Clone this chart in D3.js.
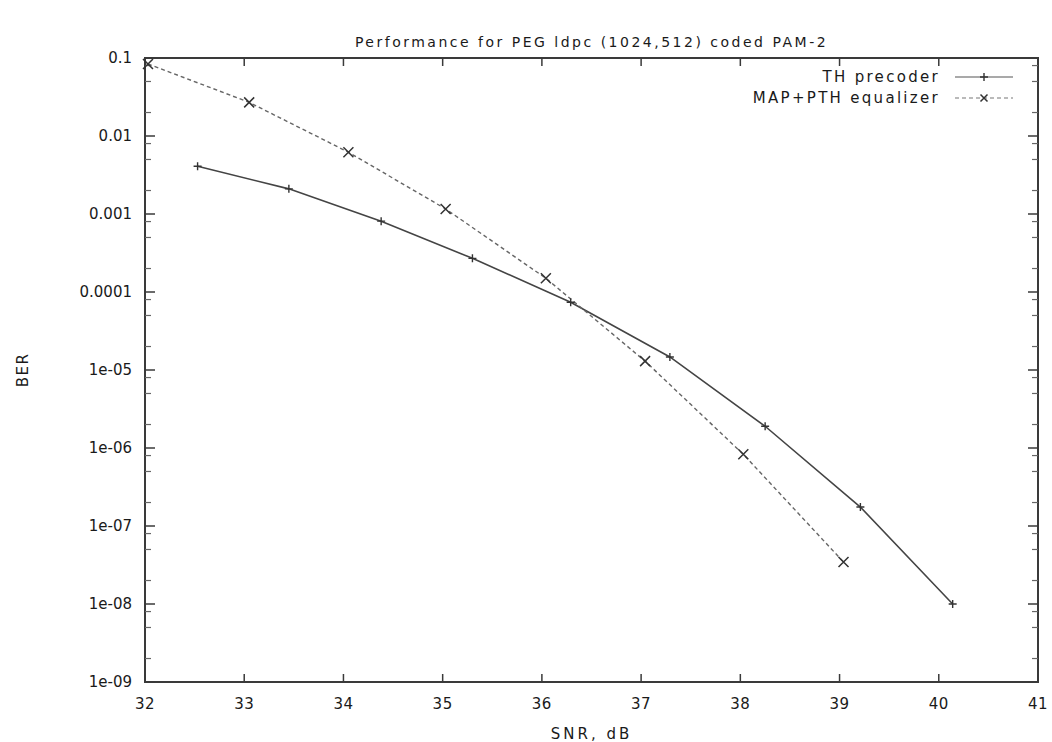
<!DOCTYPE html>
<html>
<head>
<meta charset="utf-8">
<script src="https://cdn.jsdelivr.net/npm/d3@7"></script>
<style>
  body { margin: 0; background: #fff; }
  svg text { font-family: "DejaVu Sans", "Liberation Sans", sans-serif; fill: #1a1a1a; }
</style>
</head>
<body>
<svg id="chart" width="1052" height="742"></svg>
<script>
// data
let thSnr = [32.53, 33.45, 34.38, 35.30, 36.29, 37.29, 38.25, 39.21, 40.14]
let thBer = [4.1e-3, 2.1e-3, 8.1e-4, 2.7e-4, 7.4e-5, 1.47e-5, 1.9e-6, 1.75e-7, 1.0e-8]
let mapSnr = [32.03, 33.05, 34.05, 35.03, 36.04, 37.04, 38.03, 39.04]
let mapBer = [8.4e-2, 2.7e-2, 6.2e-3, 1.16e-3, 1.5e-4, 1.3e-5, 8.3e-7, 3.45e-8]
let xTicks = [32, 33, 34, 35, 36, 37, 38, 39, 40, 41]
let yTicks = [1e-1, 1e-2, 1e-3, 1e-4, 1e-5, 1e-6, 1e-7, 1e-8, 1e-9]
let yLabels = ['0.1', '0.01', '0.001', '0.0001', '1e-05', '1e-06', '1e-07', '1e-08', '1e-09']
let minorMult = [2, 5, 8]
let seriesNames = ['TH precoder', 'MAP+PTH equalizer']

let margin = { left: 145, right: 14, top: 58, bottom: 60 }
let W = 1052, H = 742

let svg = d3.select('#chart')

let xscale = d3.scaleLinear().domain([32, 41]).range([margin.left, W - margin.right])
let yscale = d3.scaleLog().domain([1e-9, 0.1]).range([H - margin.bottom, margin.top])

let ink = '#3a3a3a'

// frame
svg.append('rect')
    .attr('x', xscale(32)).attr('y', yscale(0.1))
    .attr('width', xscale(41) - xscale(32))
    .attr('height', yscale(1e-9) - yscale(0.1))
    .style('fill', 'none').style('stroke', ink).style('stroke-width', 2)

// x ticks, bottom and mirrored on top
let xg = svg.append('g').attr('class', 'xaxis')
xTicks.forEach((t) => {
    xg.append('line')
        .attr('x1', xscale(t)).attr('x2', xscale(t))
        .attr('y1', yscale(1e-9)).attr('y2', yscale(1e-9) - 8)
        .style('stroke', ink).style('stroke-width', 1.5)
    xg.append('line')
        .attr('x1', xscale(t)).attr('x2', xscale(t))
        .attr('y1', yscale(0.1)).attr('y2', yscale(0.1) + 8)
        .style('stroke', ink).style('stroke-width', 1.5)
    xg.append('text')
        .attr('x', xscale(t)).attr('y', yscale(1e-9) + 27)
        .attr('text-anchor', 'middle')
        .style('font-size', '15px')
        .style('letter-spacing', '0.5px')
        .text(t)
})

// y ticks, left and mirrored on right
let yg = svg.append('g').attr('class', 'yaxis')
let xl = xscale(32), xr = xscale(41)
yTicks.forEach((t, i) => {
    yg.append('line')
        .attr('x1', xl).attr('x2', xl + 10)
        .attr('y1', yscale(t)).attr('y2', yscale(t))
        .style('stroke', ink).style('stroke-width', 1.5)
    yg.append('line')
        .attr('x1', xr).attr('x2', xr - 10)
        .attr('y1', yscale(t)).attr('y2', yscale(t))
        .style('stroke', ink).style('stroke-width', 1.5)
    yg.append('text')
        .attr('x', xl - 13).attr('y', yscale(t) + 5)
        .attr('text-anchor', 'end')
        .style('font-size', '15px')
        .text(yLabels[i])

    if (t < 0.1) {
        minorMult.forEach((m) => {
            let v = t * m
            yg.append('line')
                .attr('x1', xl).attr('x2', xl + 6)
                .attr('y1', yscale(v)).attr('y2', yscale(v))
                .style('stroke', '#666').style('stroke-width', 1.2)
            yg.append('line')
                .attr('x1', xr).attr('x2', xr - 6)
                .attr('y1', yscale(v)).attr('y2', yscale(v))
                .style('stroke', '#666').style('stroke-width', 1.2)
        })
    }
})

// series
let line = d3.line()
    .x((d) => xscale(d.x))
    .y((d) => yscale(d.y))

let th = thSnr.map((d, i) => ({ x: d, y: thBer[i] }))
let mp = mapSnr.map((d, i) => ({ x: d, y: mapBer[i] }))

svg.append('path')
    .attr('d', line(th))
    .style('fill', 'none').style('stroke', '#444').style('stroke-width', 1.6)

svg.append('path')
    .attr('d', line(mp))
    .style('fill', 'none').style('stroke', '#666').style('stroke-width', 1.4)
    .style('stroke-dasharray', '4,3')

function plus(g, cx, cy, s) {
    g.append('path')
        .attr('d', `M${cx - s},${cy}H${cx + s}M${cx},${cy - s}V${cy + s}`)
        .style('stroke', '#333').style('stroke-width', 1.4).style('fill', 'none')
}
function cross(g, cx, cy, s) {
    g.append('path')
        .attr('d', `M${cx - s},${cy - s}L${cx + s},${cy + s}M${cx - s},${cy + s}L${cx + s},${cy - s}`)
        .style('stroke', '#333').style('stroke-width', 1.5).style('fill', 'none')
}

let marks = svg.append('g')
th.forEach((d) => plus(marks, xscale(d.x), yscale(d.y), 4))
mp.forEach((d) => cross(marks, xscale(d.x), yscale(d.y), 5))

// legend
let lg = svg.append('g').attr('class', 'legend')
let ly = [77, 98]
seriesNames.forEach((n, i) => {
    lg.append('text')
        .attr('x', 940).attr('y', ly[i] + 5)
        .attr('text-anchor', 'end')
        .style('font-size', '15px')
        .style('letter-spacing', '2.3px')
        .text(n)
    lg.append('line')
        .attr('x1', 955).attr('x2', 1013)
        .attr('y1', ly[i]).attr('y2', ly[i])
        .style('stroke', i == 0 ? '#555' : '#777')
        .style('stroke-width', 1.2)
        .style('stroke-dasharray', i == 0 ? null : '4,3')
    if (i == 0) plus(lg, 984, ly[i], 4)
    else cross(lg, 984, ly[i], 3.5)
})

// titles
svg.append('text')
    .attr('x', (xscale(32) + xscale(41)) / 2).attr('y', 47)
    .attr('text-anchor', 'middle')
    .style('font-size', '14px')
    .style('letter-spacing', '2.5px')
    .text('Performance for PEG ldpc (1024,512) coded PAM-2')

svg.append('text')
    .attr('x', (xscale(32) + xscale(41)) / 2).attr('y', 739)
    .attr('text-anchor', 'middle')
    .style('font-size', '15px')
    .style('letter-spacing', '3px')
    .text('SNR, dB')

svg.append('text')
    .attr('transform', `translate(28,${(yscale(0.1) + yscale(1e-9)) / 2}) rotate(-90)`)
    .attr('text-anchor', 'middle')
    .style('font-size', '15px')
    .style('letter-spacing', '1.5px')
    .text('BER')
</script>
</body>
</html>
